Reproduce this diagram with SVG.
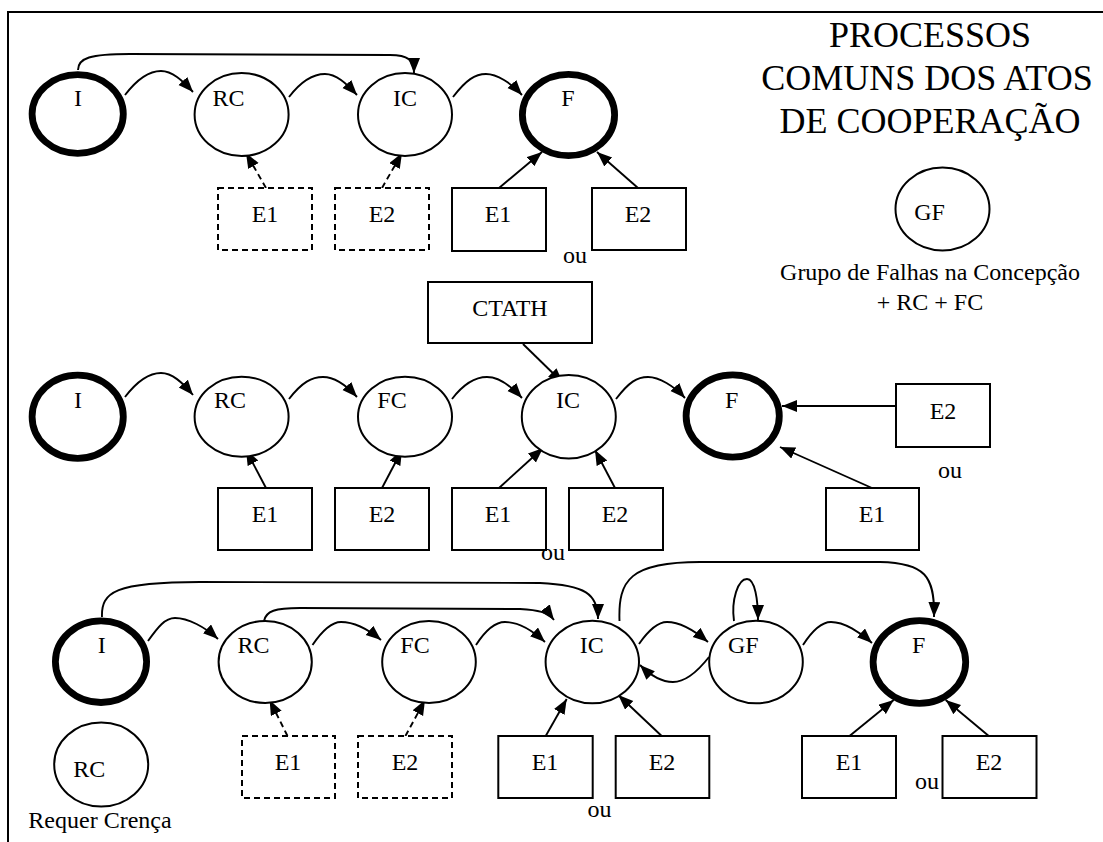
<svg xmlns="http://www.w3.org/2000/svg" width="1103" height="842" viewBox="0 0 1103 842">
  <style>
    text { font-family: "Liberation Serif", "Times New Roman", "DejaVu Serif", serif; fill: #000; }
    .lbl { font-family: "Liberation Serif", "Times New Roman", "DejaVu Serif", serif; font-size: 24px; text-anchor: middle; }
    .title { font-family: "Liberation Serif", "Times New Roman", "DejaVu Serif", serif; font-size: 36px; text-anchor: middle; }
    .node { fill: #fff; stroke: #000; stroke-width: 2; }
    .bold { fill: #fff; stroke: #000; stroke-width: 6.8; }
    .box { fill: #fff; stroke: #000; stroke-width: 2; }
    .dbox { fill: #fff; stroke: #000; stroke-width: 2; stroke-dasharray: 6 4; }
    .edge { fill: none; stroke: #000; stroke-width: 1.9; marker-end: url(#arrow); }
    .dedge { fill: none; stroke: #000; stroke-width: 1.9; stroke-dasharray: 6 4; marker-end: url(#arrow); }
  </style>
  <defs>
    <marker id="arrow" markerUnits="userSpaceOnUse" markerWidth="16" markerHeight="13" refX="15" refY="6" orient="auto">
      <path d="M0,0 L15,6 L0,12 z" fill="#000"/>
    </marker>
  </defs>

  <rect width="1103" height="842" fill="#fff"/>
  <!-- page frame -->
  <path d="M8,842 L8,12 L1103,12" fill="none" stroke="#000" stroke-width="2"/>

  <!-- title -->
  <g id="title">
    <text class="title" x="930" y="47">PROCESSOS</text>
    <text class="title" x="927" y="90">COMUNS DOS ATOS</text>
    <text class="title" x="930" y="133">DE COOPERAÇÃO</text>
  </g>

  <!-- legend -->
  <g id="legend-gf">
    <ellipse class="node" cx="942.5" cy="209" rx="47" ry="41.5"/>
    <text class="lbl" x="929.5" y="220">GF</text>
    <text class="lbl" x="930" y="280">Grupo de Falhas na Concepção</text>
    <text class="lbl" x="930" y="310">+ RC + FC</text>
  </g>
  <g id="legend-rc">
    <ellipse class="node" cx="101.2" cy="764.5" rx="47" ry="42"/>
    <text class="lbl" x="89.3" y="777">RC</text>
    <text class="lbl" x="100" y="828">Requer Crença</text>
  </g>

  <!-- connectors -->
  <g id="connectors">
    <!-- row 1 -->
    <path class="edge" d="M78,70 C78,58 90,54 130,54 L390,55 C408,55 414,60 414,73"/>
    <path class="edge" d="M125,95 C138,78 150,71 161,71 C172,71 182,80 193,92"/>
    <path class="edge" d="M289,97 C302,80 314,74 325,74 C336,74 346,83 357,95"/>
    <path class="edge" d="M453,97 C466,80 475,74 486,74 C497,74 511,83 522,95"/>
    <path class="dedge" d="M266,188 L246,153"/>
    <path class="dedge" d="M382,188 L402,153"/>
    <path class="edge" d="M499,188 L542,152"/>
    <path class="edge" d="M638,188 L597,152"/>

    <!-- row 2 -->
    <path class="edge" d="M523,344 L563,383"/>
    <path class="edge" d="M125,397 C138,380 150,373 161,373 C172,373 182,382 193,395"/>
    <path class="edge" d="M289,399 C302,382 312,377 323,377 C334,377 346,385 357,397"/>
    <path class="edge" d="M452,399 C465,382 476,377 487,377 C498,377 511,386 522,398"/>
    <path class="edge" d="M616,399 C629,382 637,377 648,377 C659,377 674,386 685,398"/>
    <path class="edge" d="M266,488 L246,450"/>
    <path class="edge" d="M382,488 L402,450"/>
    <path class="edge" d="M499,488 L543,448"/>
    <path class="edge" d="M615,488 L595,450"/>
    <path class="edge" d="M896,406 L782,406"/>
    <path class="edge" d="M872,488 L780,447"/>

    <!-- row 3 -->
    <path class="edge" d="M102,617 C101,592 115,582 200,582 L540,583 C585,585 598,594 598,619"/>
    <path class="edge" d="M264,621 C266,611 275,608 300,608 L520,609 C538,610 548,612 554,620"/>
    <path class="edge" d="M619.5,621 C618,580 630,562 700,562 L880,562 C925,563 935,576 934,617"/>
    <path class="edge" d="M148,641 C158,627 165,618 175,618 C188,618 205,627 218,639"/>
    <path class="edge" d="M312.5,645 C322,631 331,622 341,622 C354,622 369,630 381,640"/>
    <path class="edge" d="M476,645 C485,631 495,622 505,622 C518,622 533,631 545,642"/>
    <path class="edge" d="M639,644 C648,631 657,622 667,622 C680,622 695,631 708,642"/>
    <path class="edge" d="M709,657 C698,671 686,682 673,682 C660,682 650,675 640,665"/>
    <path class="edge" d="M734,621 C731,600 738,579 747,579 C755,579 758,600 758,620"/>
    <path class="edge" d="M803,645 C812,631 821,622 831,622 C844,622 860,632 872,643"/>
    <path class="dedge" d="M287.5,736 L269.6,700"/>
    <path class="dedge" d="M405.4,736 L425,700"/>
    <path class="edge" d="M545.7,736 L566.7,699"/>
    <path class="edge" d="M661.7,736 L618.3,695"/>
    <path class="edge" d="M849.5,736 L893.7,700"/>
    <path class="edge" d="M988.8,736 L945.7,700"/>
  </g>

  <!-- row 1 nodes -->
  <g id="r1-I"><ellipse class="bold" cx="77.7" cy="114" rx="45.6" ry="39.3"/><text class="lbl" x="78" y="106">I</text></g>
  <g id="r1-RC"><ellipse class="node" cx="241.6" cy="114.5" rx="47" ry="41.5"/><text class="lbl" x="228.6" y="106">RC</text></g>
  <g id="r1-IC"><ellipse class="node" cx="405" cy="114.5" rx="47" ry="41.5"/><text class="lbl" x="405" y="106">IC</text></g>
  <g id="r1-F"><ellipse class="bold" cx="568.5" cy="115" rx="46.1" ry="40.6"/><text class="lbl" x="568" y="106">F</text></g>
  <g id="r1-E1a"><rect class="dbox" x="218" y="188" width="94" height="62"/><text class="lbl" x="265" y="222">E1</text></g>
  <g id="r1-E2a"><rect class="dbox" x="335" y="188" width="94" height="62"/><text class="lbl" x="382" y="222">E2</text></g>
  <g id="r1-E1b"><rect class="box" x="452" y="188" width="94" height="63"/><text class="lbl" x="498" y="222">E1</text></g>
  <g id="r1-E2b"><rect class="box" x="592" y="188" width="94" height="62"/><text class="lbl" x="638" y="222">E2</text></g>
  <text class="lbl" x="575" y="263">ou</text>

  <!-- row 2 nodes -->
  <g id="r2-CTATH"><rect class="box" x="428" y="282" width="164" height="61"/><text class="lbl" x="510" y="316">CTATH</text></g>
  <g id="r2-I"><ellipse class="bold" cx="77.7" cy="416.7" rx="45.6" ry="41.6"/><text class="lbl" x="78" y="408">I</text></g>
  <g id="r2-RC"><ellipse class="node" cx="241.6" cy="416.7" rx="47" ry="40"/><text class="lbl" x="230" y="408">RC</text></g>
  <g id="r2-FC"><ellipse class="node" cx="405" cy="416.7" rx="47" ry="40"/><text class="lbl" x="392" y="408">FC</text></g>
  <g id="r2-IC"><ellipse class="node" cx="568.8" cy="416.7" rx="47" ry="41.7"/><text class="lbl" x="568" y="408">IC</text></g>
  <g id="r2-F"><ellipse class="bold" cx="732.7" cy="416" rx="46.6" ry="41.1"/><text class="lbl" x="731.7" y="408">F</text></g>
  <g id="r2-E1a"><rect class="box" x="218" y="488" width="94" height="62"/><text class="lbl" x="265" y="522">E1</text></g>
  <g id="r2-E2a"><rect class="box" x="335" y="488" width="94" height="62"/><text class="lbl" x="382" y="522">E2</text></g>
  <g id="r2-E1b"><rect class="box" x="452" y="488" width="94" height="62"/><text class="lbl" x="498" y="522">E1</text></g>
  <g id="r2-E2b"><rect class="box" x="569" y="488" width="94" height="62"/><text class="lbl" x="615" y="522">E2</text></g>
  <g id="r2-E2c"><rect class="box" x="896" y="384" width="94" height="63"/><text class="lbl" x="943" y="419">E2</text></g>
  <g id="r2-E1c"><rect class="box" x="826" y="488" width="93" height="62"/><text class="lbl" x="872" y="522">E1</text></g>
  <text class="lbl" x="950" y="478">ou</text>
  <text class="lbl" x="553" y="560">ou</text>

  <!-- row 3 nodes -->
  <g id="r3-I"><ellipse class="bold" cx="101" cy="661.7" rx="45.6" ry="40.8"/><text class="lbl" x="101.8" y="653">I</text></g>
  <g id="r3-RC"><ellipse class="node" cx="265.2" cy="662" rx="46.6" ry="41"/><text class="lbl" x="253.6" y="653">RC</text></g>
  <g id="r3-FC"><ellipse class="node" cx="429" cy="662" rx="46.8" ry="41"/><text class="lbl" x="415" y="653">FC</text></g>
  <g id="r3-IC"><ellipse class="node" cx="592.3" cy="662" rx="46.7" ry="41.2"/><text class="lbl" x="591.7" y="653">IC</text></g>
  <g id="r3-GF"><ellipse class="node" cx="756" cy="662" rx="46.8" ry="41.2"/><text class="lbl" x="743.3" y="653">GF</text></g>
  <g id="r3-F"><ellipse class="bold" cx="919.4" cy="662" rx="46.3" ry="41.3"/><text class="lbl" x="918.8" y="653">F</text></g>
  <g id="r3-E1a"><rect class="dbox" x="242" y="736" width="93" height="62"/><text class="lbl" x="288" y="770">E1</text></g>
  <g id="r3-E2a"><rect class="dbox" x="358" y="736" width="94" height="62"/><text class="lbl" x="405" y="770">E2</text></g>
  <g id="r3-E1b"><rect class="box" x="498.3" y="736" width="94.4" height="62"/><text class="lbl" x="545" y="770">E1</text></g>
  <g id="r3-E2b"><rect class="box" x="615.7" y="736" width="93.6" height="62"/><text class="lbl" x="662" y="770">E2</text></g>
  <g id="r3-E1c"><rect class="box" x="802" y="736" width="94" height="62"/><text class="lbl" x="849" y="770">E1</text></g>
  <g id="r3-E2c"><rect class="box" x="942.5" y="736" width="94" height="62"/><text class="lbl" x="989" y="770">E2</text></g>
  <text class="lbl" x="599.5" y="817">ou</text>
  <text class="lbl" x="927" y="789">ou</text>
</svg>
